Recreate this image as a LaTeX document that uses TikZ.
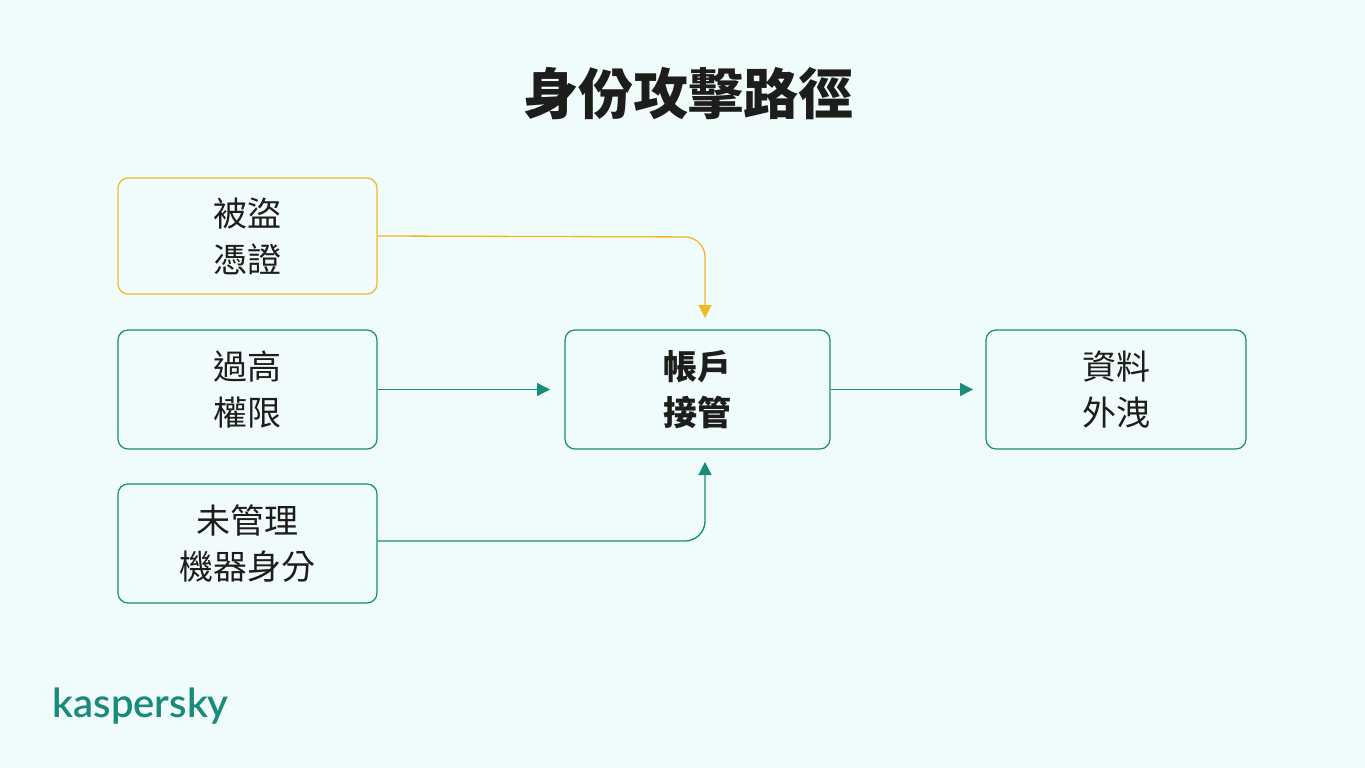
\documentclass[tikz,border=0pt]{standalone}
\usepackage{fontspec}
\setmainfont{Noto Sans CJK TC}
\newfontfamily\logofont{Lato Semibold}[FakeBold=0]
\usetikzlibrary{arrows.meta}
\definecolor{bg}{HTML}{F0FCFC}
\definecolor{teal}{HTML}{1A8A7A}
\definecolor{gold}{HTML}{F2B824}
\definecolor{ink}{HTML}{1D1D1B}
\begin{document}
\begin{tikzpicture}[x=1pt,y=-1pt,
  box/.style={draw=teal,line width=1.2pt,rounded corners=10pt,minimum width=259pt,minimum height=119pt,text=ink,font=\fontsize{34}{46}\selectfont,align=center,fill=bg},
  conn/.style={teal,line width=1.3pt,-{Triangle[length=13pt,width=13pt]},rounded corners=20pt}]
\fill[bg] (0,0) rectangle (1365,768);
\useasboundingbox (0,0) rectangle (1365,768);
\node[font=\fontsize{55}{60}\selectfont\bfseries,text=ink] (title) at (688,94) {身份攻擊路徑};
\node[box,draw=gold,minimum height=116pt] (a) at (247.5,236) {被盜\\憑證};
\node[box] (b) at (247.5,389.5) {過高\\權限};
\node[box] (c) at (247.5,543.5) {未管理\\機器身分};
\node[box,minimum width=265pt,font=\fontsize{34}{46}\selectfont\bfseries] (d) at (697.5,389.5) {帳戶\\接管};
\node[box,minimum width=260pt] (e) at (1116,389.5) {資料\\外洩};
\draw[conn,gold] (a.east) -- (705,237) -- (705,318);
\draw[conn] (b.east) -- (550,389.5);
\draw[conn] (c.east |- 0,541) -- (705,541) -- (705,462);
\draw[conn] (d.east) -- (973,389.5);
\node[font=\logofont\fontsize{40}{40}\selectfont,text=teal,anchor=west] (logo) at (49,706) {kaspersky};
\end{tikzpicture}
\end{document}
